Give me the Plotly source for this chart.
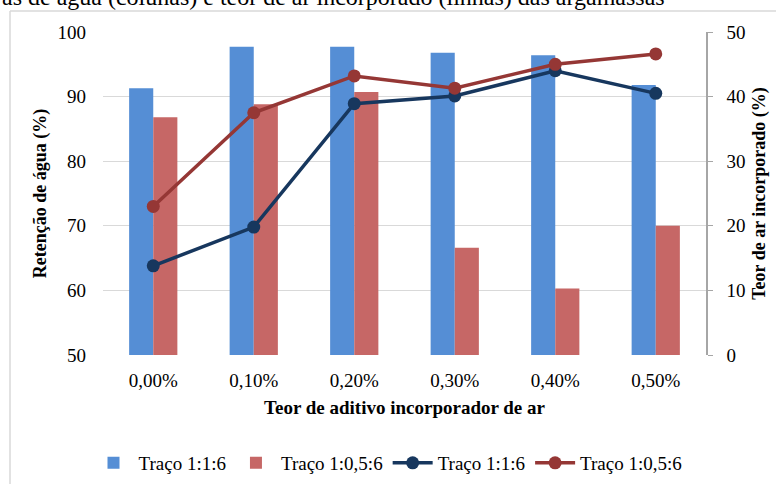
import plotly.graph_objects as go

# Teor de aditivo incorporador de ar (categorias do eixo x)
teores = ["0,00%", "0,10%", "0,20%", "0,30%", "0,40%", "0,50%"]

# Retenção de água (%) – colunas, eixo esquerdo
retencao_116 = [91.3, 97.7, 97.7, 96.8, 96.4, 91.8]
retencao_1056 = [86.8, 88.8, 90.7, 66.6, 60.3, 70.0]

# Teor de ar incorporado (%) – linhas, eixo direito
ar_116 = [13.8, 19.8, 38.9, 40.1, 44.0, 40.5]
ar_1056 = [23.0, 37.5, 43.2, 41.3, 45.0, 46.6]

serie_nomes = ["Traço 1:1:6", "Traço 1:0,5:6"]
y_ticks = [50, 60, 70, 80, 90, 100]
y2_ticks = [0, 10, 20, 30, 40, 50]

FONT = "Liberation Serif"
W, H = 776, 484
ML, MR, MT, MB = 103, 70, 32, 129
PW, PH = W - ML - MR, H - MT - MB


def f(size, bold=False):
    return dict(family=FONT, size=size, color="black",
                weight="bold" if bold else "normal")


def px(x):
    return (x - ML) / PW


def py(y):
    return (H - MB - y) / PH


fig = go.Figure()

fig.add_trace(go.Bar(
    x=teores, y=retencao_116, name=serie_nomes[0],
    marker=dict(color="#558ED5", line=dict(width=0)),
    base=0,
))
fig.add_trace(go.Bar(
    x=teores, y=retencao_1056, name=serie_nomes[1],
    marker=dict(color="#C66766", line=dict(width=0)),
    base=0,
))
fig.add_trace(go.Scatter(
    x=teores, y=ar_116, name=serie_nomes[0], yaxis="y2",
    mode="lines+markers",
    line=dict(color="#17375E", width=3.5),
    marker=dict(color="#17375E", size=13),
))
fig.add_trace(go.Scatter(
    x=teores, y=ar_1056, name=serie_nomes[1], yaxis="y2",
    mode="lines+markers",
    line=dict(color="#953735", width=3.5),
    marker=dict(color="#953735", size=13),
))

fig.update_layout(
    width=W, height=H,
    margin=dict(l=ML, r=MR, t=MT, b=MB, autoexpand=False),
    paper_bgcolor="white", plot_bgcolor="white",
    font=f(19),
    barmode="group", bargap=0.52, bargroupgap=0,
    xaxis=dict(
        type="category", showgrid=False, showline=False, ticks="",
        tickfont=f(19), ticklabelstandoff=12, automargin=False,
        title=dict(text="Teor de aditivo incorporador de ar",
                   font=f(19, True), standoff=10),
    ),
    yaxis=dict(
        range=[50, 100], tickvals=y_ticks, showgrid=True,
        gridcolor="#D9D9D9", gridwidth=1, zeroline=False,
        showline=False, ticks="", ticklabelstandoff=16,
        tickfont=f(19), automargin=False,
        title=dict(text="Retenção de água (%)",
                   font=f(18, True), standoff=6),
    ),
    yaxis2=dict(
        range=[0, 50], tickvals=y2_ticks, overlaying="y", side="right",
        showgrid=False, zeroline=False, showline=True,
        linecolor="#A6A6A6", linewidth=1.5,
        ticks="outside", ticklen=5, tickcolor="#A6A6A6",
        ticklabelstandoff=10, tickfont=f(19), automargin=False,
        title=dict(text="Teor de ar incorporado (%)",
                   font=f(18, True), standoff=8),
    ),
    legend=dict(
        orientation="h", x=0.5, xanchor="center", xref="container",
        y=1 - 463 / H, yanchor="middle", yref="container",
        font=f(19), itemwidth=40, tracegroupgap=0,
        bgcolor="rgba(0,0,0,0)",
    ),
    showlegend=True,
)

# Moldura da área do gráfico
fig.add_shape(type="line", xref="paper", yref="paper",
              x0=px(10), x1=px(10), y0=py(H + 5), y1=py(11),
              line=dict(color="#D9D9D9", width=1.5))
fig.add_shape(type="line", xref="paper", yref="paper",
              x0=px(10), x1=px(W + 5), y0=py(11), y1=py(11),
              line=dict(color="#D9D9D9", width=1.5))

# Legenda da figura (linha superior, cortada pela borda)
fig.add_annotation(
    xref="paper", yref="paper", x=px(0), y=py(-3),
    xanchor="left", yanchor="middle", showarrow=False,
    text="as de água (colunas) e teor de ar incorporado (linhas) das argamassas",
    font=f(24),
)

fig.write_html("out.html")
